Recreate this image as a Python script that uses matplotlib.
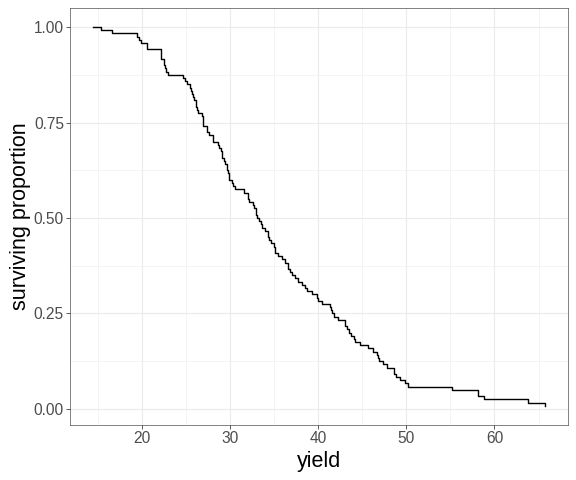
import numpy as np
import matplotlib.pyplot as plt

# barley yields
yield_1931 = [
    27.00, 48.87, 27.43, 39.93, 32.97, 28.97,
    43.07, 55.20, 28.77, 38.13, 29.13, 29.67,
    35.13, 47.33, 25.77, 40.47, 29.67, 25.70,
    39.90, 50.23, 26.13, 41.33, 23.03, 26.30,
    36.57, 63.83, 43.77, 46.93, 29.77, 33.93,
    43.27, 58.10, 28.70, 45.67, 32.17, 33.60,
    36.60, 65.77, 30.37, 48.57, 24.93, 28.10,
    32.77, 48.57, 29.87, 41.60, 34.70, 32.00,
    24.67, 46.77, 22.60, 44.10, 19.70, 33.07,
    39.30, 58.80, 29.47, 49.87, 34.47, 31.60,
]
yield_1932 = [
    26.90, 33.47, 34.37, 32.97, 22.13, 22.57,
    36.80, 37.73, 35.13, 26.17, 14.43, 25.87,
    27.43, 38.50, 35.03, 20.63, 16.63, 22.23,
    26.87, 37.40, 38.77, 32.67, 32.07, 22.47,
    29.07, 49.23, 46.63, 41.83, 20.63, 30.60,
    26.43, 42.20, 43.53, 34.33, 19.47, 22.70,
    25.57, 44.23, 47.83, 35.90, 22.20, 25.50,
    28.07, 43.00, 46.20, 29.90, 25.10, 30.20,
    27.60, 41.50, 44.80, 29.30, 15.40, 26.90,
    36.30, 58.17, 37.00, 35.40, 19.90, 33.30,
]

yields = np.sort(np.array(yield_1931 + yield_1932))
n = len(yields)
surviving = 1 - np.arange(n) / n

plt.rcParams['font.family'] = ['Liberation Sans', 'DejaVu Sans']

fig = plt.figure(figsize=(8, 480 / 72), dpi=72)
ax = fig.add_axes([70 / 576, 1 - 424.7 / 480, 498 / 576, 416.6 / 480])

ax.step(yields, surviving, where='post', color='black', linewidth=1.4)

span = yields.max() - yields.min()
ax.set_xlim(yields.min() - 0.05 * span, yields.max() + 0.05 * span)
yspan = surviving.max() - surviving.min()
ax.set_ylim(surviving.min() - 0.05 * yspan, surviving.max() + 0.05 * yspan)

ax.set_xticks([20, 30, 40, 50, 60])
ax.set_xticks([15, 25, 35, 45, 55, 65], minor=True)
ax.set_yticks([0, 0.25, 0.5, 0.75, 1.0])
ax.set_yticks([0.125, 0.375, 0.625, 0.875], minor=True)
ax.set_yticklabels(['0.00', '0.25', '0.50', '0.75', '1.00'])

ax.grid(which='major', color='#EBEBEB', linewidth=1.1)
ax.grid(which='minor', color='#EBEBEB', linewidth=0.55)
ax.set_axisbelow(True)

for side in ax.spines.values():
    side.set_color('#333333')
    side.set_linewidth(0.6)

ax.tick_params(which='major', length=4, width=0.8, color='#333333',
               labelsize=15.5, labelcolor='#4D4D4D', pad=2)
ax.tick_params(which='minor', length=0)

ax.set_xlabel('yield', fontsize=21.5, labelpad=5)
ax.set_ylabel('surviving proportion', fontsize=21.5, labelpad=3)

fig.savefig('out.png', dpi=72)
